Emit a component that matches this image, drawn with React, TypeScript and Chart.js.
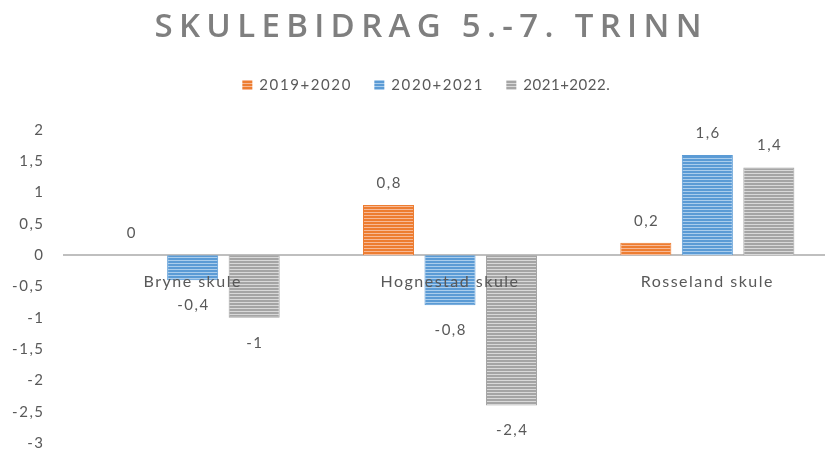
import React, { useEffect, useRef } from "react";
import { Chart, registerables } from "chart.js";

Chart.register(...registerables);

const chartTitle = "SKULEBIDRAG 5.-7. TRINN";
const categories = ["Bryne skule", "Hognestad skule", "Rosseland skule"];
const seriesLabels = ["2019+2020", "2020+2021", "2021+2022."];
const values2019_2020 = [0, 0.8, 0.2];
const values2020_2021 = [-0.4, -0.8, 1.6];
const values2021_2022 = [-1, -2.4, 1.4];
const yMin = -3;
const yMax = 2;
const yStep = 0.5;

const mainColors = ["#ED7D31", "#5B9BD5", "#A5A5A5"];
const lightColors = ["#F7B996", "#AACDEC", "#D9D9D9"];
const textColor = "#595959";
const titleColor = "#7F7F7F";
const FONT = "Lato, 'Open Sans', sans-serif";
const TITLE_FONT = "'Open Sans', Lato, sans-serif";

const fmt = (v: number) => String(v).replace(".", ",");

function stripe(main: string, light: string): CanvasPattern | string {
  const c = document.createElement("canvas");
  c.width = 4;
  c.height = 3;
  const g = c.getContext("2d");
  if (!g) return main;
  g.fillStyle = main;
  g.fillRect(0, 0, 4, 3);
  g.fillStyle = light;
  g.fillRect(0, 2, 4, 1);
  return g.createPattern(c, "repeat") || main;
}

const overlayPlugin = {
  id: "overlay",
  beforeDraw(chart: any) {
    (chart.ctx as any).letterSpacing = "1.5px";
  },
  afterDatasetsDraw(chart: any) {
    const ctx = chart.ctx as CanvasRenderingContext2D;
    ctx.save();
    (ctx as any).letterSpacing = "1.5px";
    ctx.font = `15px ${FONT}`;
    ctx.fillStyle = textColor;
    ctx.textAlign = "center";
    ctx.textBaseline = "middle";
    chart.data.datasets.forEach((ds: any, di: number) => {
      const meta = chart.getDatasetMeta(di);
      meta.data.forEach((el: any, i: number) => {
        const v = ds.data[i] as number;
        const y = v >= 0 ? el.y - 22 : el.y + 25;
        ctx.fillText(fmt(v), el.x + 0.75, y);
      });
    });
    ctx.restore();
  },
  afterDraw(chart: any) {
    const ctx = chart.ctx as CanvasRenderingContext2D;
    // Title
    ctx.save();
    ctx.font = `600 33px ${TITLE_FONT}`;
    (ctx as any).letterSpacing = "0px";
    const w0 = ctx.measureText(chartTitle).width;
    const target = 547;
    const n = chartTitle.length;
    const s = (target - w0) / (n - 1);
    (ctx as any).letterSpacing = `${s}px`;
    ctx.fillStyle = titleColor;
    ctx.textAlign = "left";
    ctx.textBaseline = "alphabetic";
    ctx.fillText(chartTitle, 428 - target / 2, 37);
    ctx.restore();

    // Legend
    ctx.save();
    ctx.font = `15px ${FONT}`;
    ctx.textBaseline = "middle";
    ctx.textAlign = "left";
    ctx.fillStyle = textColor;
    const textTargets = [91, 91, 83];
    const box = 10;
    const gapBoxText = 7;
    const gapItems = 24;
    const items = seriesLabels.map((lbl, i) => {
      (ctx as any).letterSpacing = "0px";
      const w = ctx.measureText(lbl).width;
      const sp = Math.max(0.5, (textTargets[i] - w) / (lbl.length - 1));
      (ctx as any).letterSpacing = `${sp}px`;
      const tw = ctx.measureText(lbl).width - sp;
      return { lbl, sp, tw };
    });
    const total =
      items.reduce((a, it) => a + box + gapBoxText + it.tw, 0) + gapItems * (items.length - 1);
    let x = 426 - total / 2;
    const cy = 85;
    items.forEach((it, i) => {
      const pat = chart.data.datasets[i].backgroundColor;
      ctx.fillStyle = pat;
      ctx.fillRect(x, cy - box / 2, box, box);
      x += box + gapBoxText;
      (ctx as any).letterSpacing = `${it.sp}px`;
      ctx.fillStyle = textColor;
      ctx.fillText(it.lbl, x, cy);
      x += it.tw + gapItems;
    });
    ctx.restore();
  },
};

export default function App() {
  const ref = useRef<HTMLCanvasElement | null>(null);

  useEffect(() => {
    if (!ref.current) return;
    const seriesValues = [values2019_2020, values2020_2021, values2021_2022];
    const chart = new Chart(ref.current, {
      type: "bar",
      data: {
        labels: categories,
        datasets: seriesLabels.map((label, i) => ({
          label,
          data: seriesValues[i],
          backgroundColor: stripe(mainColors[i], lightColors[i]) as any,
          borderColor: mainColors[i],
          borderWidth: 1,
          categoryPercentage: 0.717,
          barPercentage: 0.83,
        })),
      },
      options: {
        animation: false,
        responsive: true,
        maintainAspectRatio: false,
        layout: { padding: { top: 130, right: 0, bottom: 14, left: 0 } },
        plugins: {
          legend: { display: false },
          title: { display: false },
          tooltip: { enabled: false },
        },
        scales: {
          x: {
            type: "category",
            position: { y: 0 } as any,
            grid: { display: false, drawTicks: false },
            border: { display: true, color: "#BFBFBF", width: 2 },
            ticks: {
              color: textColor,
              font: { family: FONT, size: 16 },
              padding: 17,
              z: 1,
              maxRotation: 0,
              autoSkip: false,
            },
          },
          y: {
            type: "linear",
            min: yMin,
            max: yMax,
            grid: { display: false, drawTicks: false },
            border: { display: false },
            ticks: {
              stepSize: yStep,
              color: textColor,
              font: { family: FONT, size: 15 },
              padding: 19.5,
              callback: (v: any) => fmt(Number(v)),
            },
            afterFit: (scale: any) => {
              scale.width = 64;
              scale.paddingTop = 0;
              scale.paddingBottom = 0;
            },
          },
        },
      },
      plugins: [overlayPlugin],
    });
    return () => chart.destroy();
  }, []);

  return (
    <div
      style={{
        position: "fixed",
        left: 0,
        top: 0,
        width: 825,
        height: 457,
        overflow: "hidden",
        background: "#ffffff",
      }}
    >
      <div style={{ position: "relative", width: 836, height: 457 }}>
        <canvas ref={ref} />
      </div>
    </div>
  );
}
